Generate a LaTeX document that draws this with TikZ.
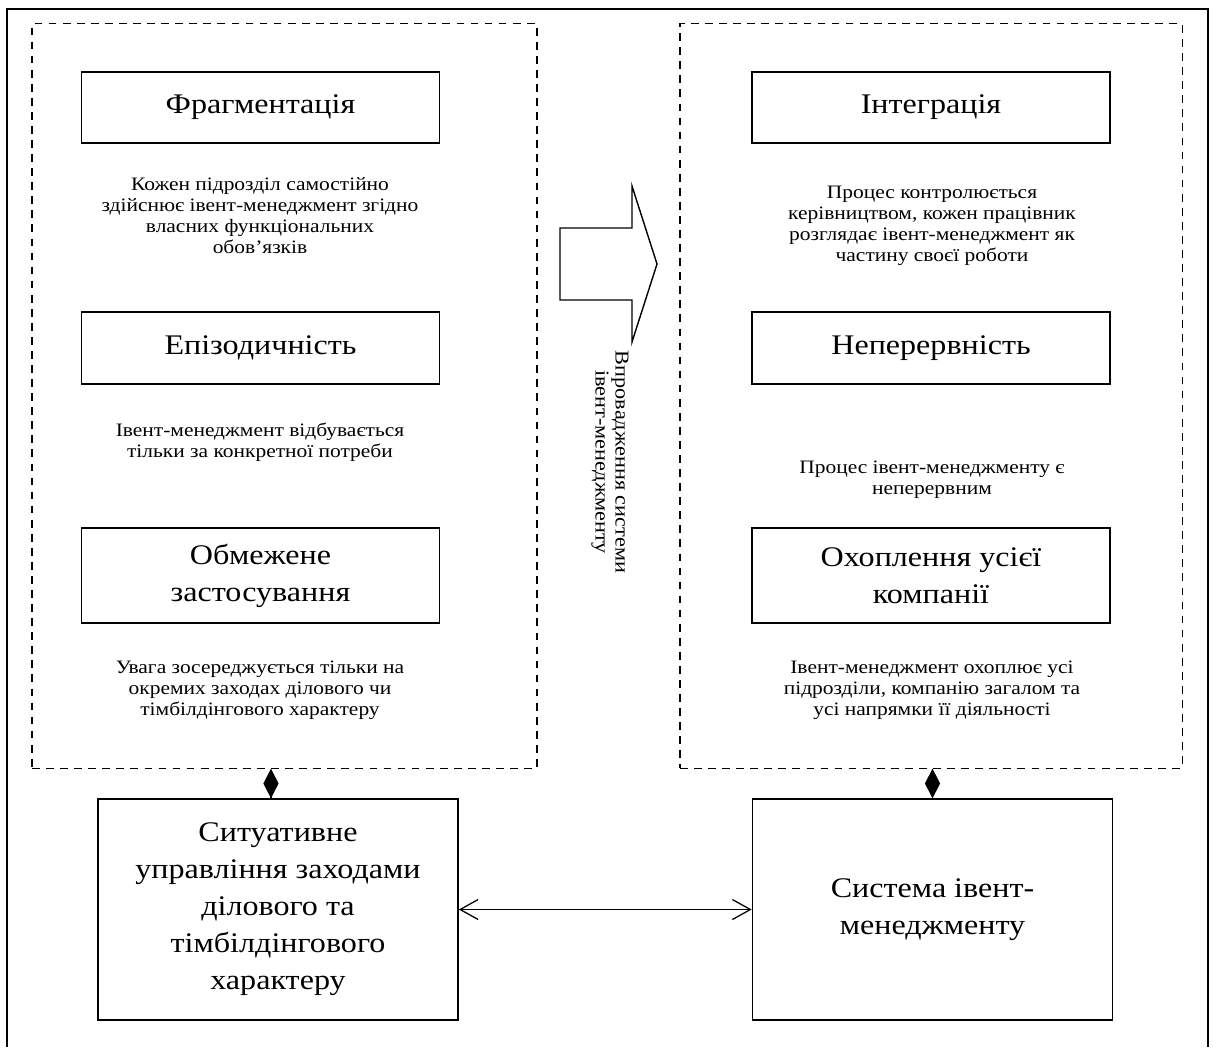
\documentclass[tikz,border=0pt]{standalone}
\usepackage{fontspec}
\setmainfont[FakeStretch=1.13]{Liberation Serif}
\usetikzlibrary{arrows.meta,positioning}

\begin{document}
\begin{tikzpicture}[
  x=0.025cm,
  y=-0.025cm,
  titlebox/.style={
    draw,
    line width=1.1pt,
    align=center,
    inner sep=0pt,
    font=\fontsize{20.2}{26.3}\selectfont,
    minimum width=8.95cm
  },
  sysbox/.style={titlebox, minimum width=9cm, minimum height=5.52cm},
  groupbox/.style={draw, dash pattern=on 5.5pt off 4.5pt, line width=0.8pt, minimum height=18.6cm},
  note/.style={align=center, font=\fontsize{13.5}{14.9}\selectfont},
  comp/.style={-{Diamond[length=0.74cm,width=0.38cm]}, line width=0.8pt},
  link/.style={{Straight Barb[length=4.5mm,width=5mm]}-{Straight Barb[length=4.5mm,width=5mm]}, line width=0.9pt}
]
\useasboundingbox (0,0) rectangle (1214,1047);
\draw[line width=1pt] (7,1047) -- (7,9) -- (1208,9) -- (1208,1047);

\node[groupbox, minimum width=12.62cm] (lgroup) at (284.5,396) {};
\node[groupbox, minimum width=12.55cm] (rgroup) at (931,396) {};

% current state
\node[titlebox, minimum height=1.78cm] (frag) at (260.5,107.5) {Фрагментація};
\node[note] (fragnote) at (260,216) {Кожен підрозділ самостійно\\здійснює івент-менеджмент згідно\\власних функціональних\\обов’язків};
\node[titlebox, minimum height=1.8cm] (epis) at (260.5,348) {Епізодичність};
\node[note] (episnote) at (260,442) {Івент-менеджмент відбувається\\тільки за конкретної потреби};
\node[titlebox, minimum height=2.38cm] (limit) at (260.5,575.5) {Обмежене\\застосування};
\node[note] (limitnote) at (260,690) {Увага зосереджується тільки на\\окремих заходах ділового чи\\тімбілдінгового характеру};

% target state
\node[titlebox, minimum height=1.78cm] (integ) at (931,107.5) {Інтеграція};
\node[note] (integnote) at (932,226) {Процес контролюється\\керівництвом, кожен працівник\\розглядає івент-менеджмент як\\частину своєї роботи};
\node[titlebox, minimum height=1.8cm] (cont) at (931,348) {Неперервність};
\node[note] (contnote) at (932,480) {Процес івент-менеджменту є\\неперервним};
\node[titlebox, minimum height=2.38cm] (cover) at (931,575.5) {Охоплення усієї\\компанії};
\node[note] (covernote) at (932,690) {Івент-менеджмент охоплює усі\\підрозділи, компанію загалом та\\усі напрямки її діяльності};

% transition
\draw[line width=1pt] (560,228) -- (632,228) -- (632,186) -- (657,264) -- (632,342) -- (632,300) -- (560,300) -- cycle;
\node[note, rotate=-90, font=\fontsize{14}{14.2}\selectfont] (implnote) at (610,462) {Впровадження системи\\івент-менеджменту};

\node[sysbox] (lsys) at (278,909.5) {Ситуативне\\управління заходами\\ділового та\\тімбілдінгового\\характеру};
\node[sysbox] (rsys) at (932.5,909.5) {Система івент-\\менеджменту};

\draw[comp] ([xshift=-5pt]lsys.north) -- ([xshift=-5pt]lsys.north |- lgroup.south);
\draw[comp] (rsys.north) -- (rsys.north |- rgroup.south);
\draw[link] (lsys) -- (rsys);
\end{tikzpicture}
\end{document}
